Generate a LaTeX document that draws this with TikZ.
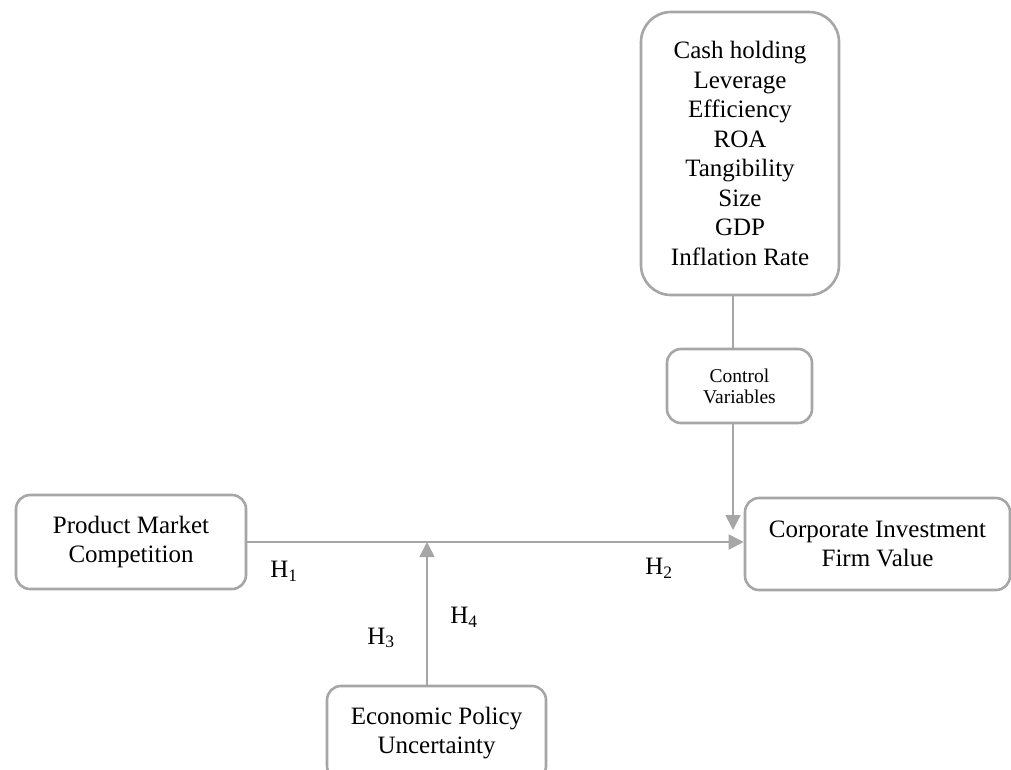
\documentclass[tikz,border=0pt]{standalone}
\usepackage{fontspec}
\setmainfont{Liberation Serif}
\usetikzlibrary{arrows.meta}
\definecolor{lc}{RGB}{166,166,166}
\tikzset{
  box/.style={draw=lc, line width=2.6pt, rounded corners=14pt, align=center,
    inner sep=0pt, font=\fontsize{25}{29.5}\selectfont},
  conn/.style={draw=lc, line width=1.8pt},
  arr/.style={conn, -{Triangle[length=15pt,width=15pt]}},
  hlab/.style={font=\fontsize{25}{29.5}\selectfont, inner sep=0pt}
}
\begin{document}
\begin{tikzpicture}[x=1pt,y=-1pt]
\clip (0,0) rectangle (1011,769);
\fill[white] (0,0) rectangle (1011,769);
\node[box, rounded corners=30pt, minimum width=198pt, minimum height=283pt] (ctrl) at (740,153.5)
  {Cash holding\\Leverage\\Efficiency\\ROA\\Tangibility\\Size\\GDP\\Inflation Rate};
\node[box, minimum width=145pt, minimum height=74pt, font=\fontsize{19.5}{21}\selectfont] (cv) at (739.5,386)
  {Control\\Variables};
\node[box, minimum width=230pt, minimum height=94pt] (pmc) at (131,542)
  {Product Market\\Competition};
\node[box, minimum width=265pt, minimum height=92pt] (corp) at (877.5,544)
  {Corporate Investment\\Firm Value};
\node[box, minimum width=219pt, minimum height=94pt] (epu) at (436.5,733)
  {Economic Policy\\Uncertainty};
\coordinate (c) at (733,530);
\coordinate (m) at (427,542);
\draw[conn] (ctrl.south -| c) -- (cv.north -| c);
\draw[arr] (cv.south -| c) -- (c);
\draw[arr] (pmc.east |- m) -- (corp.west |- m);
\draw[arr] (epu.north -| m) -- (m);
\node[hlab] (h1) at (284,571) {H\textsubscript{1}};
\node[hlab] (h2) at (659,568) {H\textsubscript{2}};
\node[hlab] (h3) at (381,638) {H\textsubscript{3}};
\node[hlab] (h4) at (464,617) {H\textsubscript{4}};
\end{tikzpicture}
\end{document}
